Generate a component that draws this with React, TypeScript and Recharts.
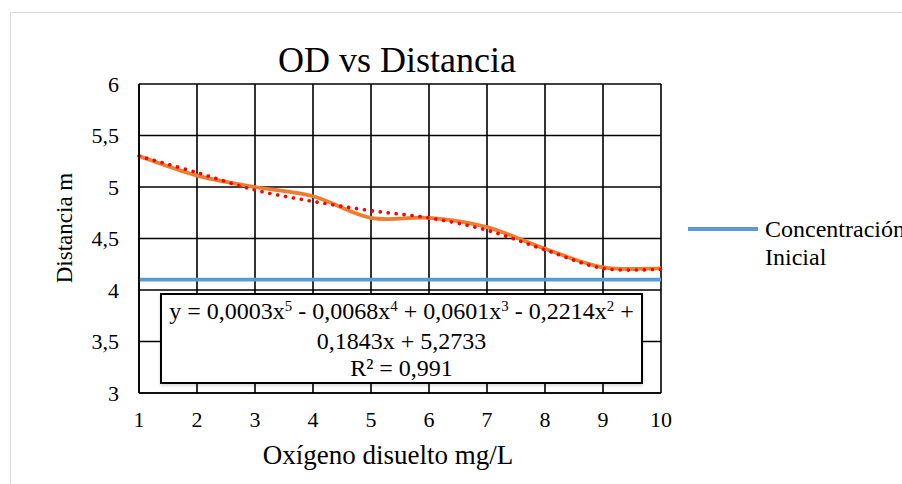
import React from "react";
import { LineChart, Line, XAxis, YAxis, CartesianGrid, Legend } from "recharts";

const oxygen = [1, 2, 3, 4, 5, 6, 7, 8, 9, 10];
const distance = [5.3, 5.11, 5.0, 4.91, 4.7, 4.7, 4.61, 4.4, 4.22, 4.21];
const initialConc = [4.1, 4.1, 4.1, 4.1, 4.1, 4.1, 4.1, 4.1, 4.1, 4.1];
const trend = [5.3, 5.14, 4.97, 4.86, 4.77, 4.7, 4.58, 4.39, 4.21, 4.2];
const yTicks = [3, 3.5, 4, 4.5, 5, 5.5, 6];
const xTicks = [1, 2, 3, 4, 5, 6, 7, 8, 9, 10];

const data = oxygen.map((x, i) => ({
  x,
  distancia: distance[i],
  inicial: initialConc[i],
  tendencia: trend[i],
}));

const FONT = "Liberation Serif, Tinos, DejaVu Serif, serif";

// excel-ish smoothed line (catmull-rom through the points)
const smoothCurve = (context: any) => {
  let pts: number[][] = [];
  return {
    areaStart() {},
    areaEnd() {},
    lineStart() {
      pts = [];
    },
    point(x: number, y: number) {
      pts.push([+x, +y]);
    },
    lineEnd() {
      if (!pts.length) return;
      context.moveTo(pts[0][0], pts[0][1]);
      for (let i = 0; i < pts.length - 1; i++) {
        const p0 = pts[i - 1] || pts[i];
        const p1 = pts[i];
        const p2 = pts[i + 1];
        const p3 = pts[i + 2] || p2;
        context.bezierCurveTo(
          p1[0] + (p2[0] - p0[0]) / 6,
          p1[1] + (p2[1] - p0[1]) / 6,
          p2[0] - (p3[0] - p1[0]) / 6,
          p2[1] - (p3[1] - p1[1]) / 6,
          p2[0],
          p2[1]
        );
      }
    },
  };
};

const comma = (v: number) => String(v).replace(".", ",");

const LegendBox = () => (
  <div style={{ position: "absolute", left: 688, top: 215, width: 240, fontFamily: FONT, fontSize: 24, lineHeight: "28px", color: "#000" }}>
    <div style={{ position: "absolute", left: 0, top: 12, width: 70, height: 4, background: "#5B9BD5" }} />
    <div style={{ position: "absolute", left: 77, top: 0, whiteSpace: "nowrap" }}>
      Concentración
      <br />
      Inicial
    </div>
  </div>
);

const sup = (s: string) => (
  <span style={{ fontSize: "0.62em", position: "relative", top: "-0.55em" }}>{s}</span>
);

const App = () => {
  return (
    <div style={{ position: "fixed", left: 0, top: 0, width: 902, height: 484, overflow: "hidden", background: "#fff" }}>
      <div style={{ position: "absolute", left: 10, top: 12, width: 1000, height: 600, border: "1px solid #d9d9d9" }} />
      <div style={{ position: "absolute", left: 0, top: 0 }}>
        <LineChart width={902} height={484} data={data} margin={{ top: 84, right: 241, bottom: 51, left: 79 }}>
          <CartesianGrid stroke="#000" strokeWidth={1.6} />
          <XAxis
            dataKey="x"
            type="number"
            domain={[1, 10]}
            ticks={xTicks}
            height={40}
            axisLine={{ stroke: "#000", strokeWidth: 1.6 }}
            tickLine={false}
            tickMargin={12}
            tick={{ fill: "#000", fontSize: 22, fontFamily: FONT }}
          />
          <YAxis
            type="number"
            domain={[3, 6]}
            ticks={yTicks}
            width={60}
            axisLine={{ stroke: "#000", strokeWidth: 1.6 }}
            tickLine={false}
            tickMargin={14}
            tickFormatter={comma}
            tick={{ fill: "#000", fontSize: 22, fontFamily: FONT }}
          />
          <Legend content={() => null} />
          <Line dataKey="inicial" stroke="#5B9BD5" strokeWidth={3.8} dot={false} type="linear" isAnimationActive={false} />
          <Line dataKey="distancia" stroke="#ED7D31" strokeWidth={3.8} dot={false} type={smoothCurve as any} isAnimationActive={false} />
          <Line
            dataKey="tendencia"
            stroke="#FF0000"
            strokeWidth={3.6}
            strokeDasharray="0.1 7.9"
            strokeLinecap="round"
            dot={false}
            type={smoothCurve as any}
            isAnimationActive={false}
          />
        </LineChart>
      </div>
      <div style={{ position: "absolute", left: 136, width: 522, top: 40, textAlign: "center", fontFamily: FONT, fontSize: 36, color: "#000", lineHeight: "40px" }}>
        OD vs Distancia
      </div>
      <div
        style={{
          position: "absolute",
          left: 65,
          top: 228,
          transform: "translate(-50%, -50%) rotate(-90deg)",
          whiteSpace: "nowrap",
          fontFamily: FONT,
          fontSize: 23,
          lineHeight: "26px",
          color: "#000",
        }}
      >
        Distancia m
      </div>
      <div style={{ position: "absolute", left: 127, width: 522, top: 440, textAlign: "center", fontFamily: FONT, fontSize: 27, color: "#000", lineHeight: "30px" }}>
        Oxígeno disuelto mg/L
      </div>
      <div
        style={{
          position: "absolute",
          left: 160,
          top: 293,
          width: 479,
          height: 84,
          border: "2px solid #000",
          background: "#fff",
          boxShadow: "0 2px 3px rgba(0,0,0,0.15)",
          fontFamily: FONT,
          fontSize: 24,
          lineHeight: "27px",
          textAlign: "center",
          color: "#000",
          paddingTop: 3,
          boxSizing: "content-box",
          whiteSpace: "nowrap",
        }}
      >
        <div>
          y = 0,0003x{sup("5")} - 0,0068x{sup("4")} + 0,0601x{sup("3")} - 0,2214x{sup("2")} +
        </div>
        <div>0,1843x + 5,2733</div>
        <div>R² = 0,991</div>
      </div>
      <LegendBox />
    </div>
  );
};

export default App;
